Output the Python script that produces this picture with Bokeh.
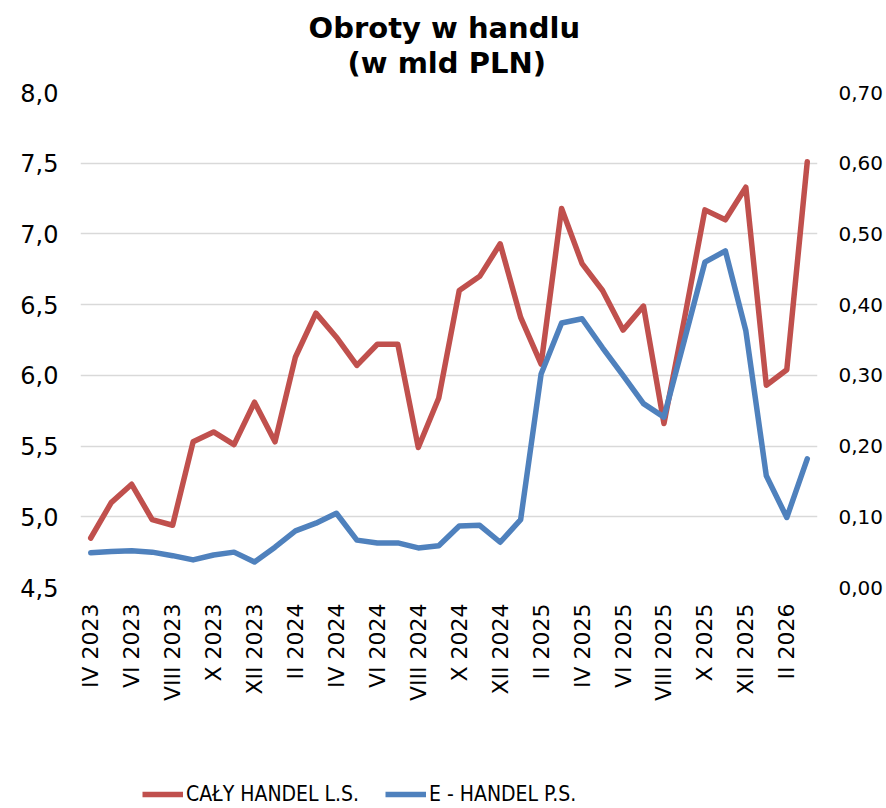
from math import pi
from bokeh.plotting import figure
from bokeh.layouts import column
from bokeh.models import (FactorRange, Range1d, LinearAxis, FixedTicker, Title,
                          CustomJSTickFormatter, Legend, LegendItem, ColumnDataSource)
from bokeh.embed import file_html
from bokeh.resources import INLINE

months = ["IV 2023", "V 2023", "VI 2023", "VII 2023", "VIII 2023", "IX 2023",
          "X 2023", "XI 2023", "XII 2023",
          "I 2024", "II 2024", "III 2024", "IV 2024", "V 2024", "VI 2024",
          "VII 2024", "VIII 2024", "IX 2024", "X 2024", "XI 2024", "XII 2024",
          "I 2025", "II 2025", "III 2025", "IV 2025", "V 2025", "VI 2025",
          "VII 2025", "VIII 2025", "IX 2025", "X 2025", "XI 2025", "XII 2025",
          "I 2026", "II 2026", "III 2026"]

shown_labels = ["IV 2023", "VI 2023", "VIII 2023", "X 2023", "XII 2023",
                "II 2024", "IV 2024", "VI 2024", "VIII 2024", "X 2024", "XII 2024",
                "II 2025", "IV 2025", "VI 2025", "VIII 2025", "X 2025", "XII 2025",
                "II 2026"]

caly_handel = [4.85, 5.10, 5.23, 4.98, 4.94, 5.53, 5.60, 5.51, 5.81,
               5.53, 6.13, 6.44, 6.27, 6.07, 6.22, 6.22, 5.49, 5.84, 6.60, 6.70, 6.93,
               6.41, 6.08, 7.18, 6.79, 6.60, 6.32, 6.49, 5.66, 6.40, 7.17, 7.10, 7.33,
               5.93, 6.04, 7.51]

e_handel = [0.049, 0.051, 0.052, 0.050, 0.045, 0.039, 0.046, 0.050, 0.036,
            0.057, 0.080, 0.091, 0.105, 0.067, 0.063, 0.063, 0.056, 0.059, 0.087, 0.088, 0.064,
            0.096, 0.302, 0.374, 0.380, 0.339, 0.300, 0.260, 0.241, 0.350, 0.460, 0.476, 0.363,
            0.158, 0.099, 0.182]

left_ticks = [4.5, 5.0, 5.5, 6.0, 6.5, 7.0, 7.5, 8.0]
right_ticks = [0.0, 0.1, 0.2, 0.3, 0.4, 0.5, 0.6, 0.7]

title_line1 = "Obroty w handlu"
title_line2 = "(w mld PLN)"
series_names = ["CAŁY HANDEL L.S.", "E - HANDEL P.S."]

RED = "#C0504D"
BLUE = "#4F81BD"
FONT = "DejaVu Sans"
LEGEND_FONT = "'DejaVu Sans Condensed', 'Roboto', sans-serif"

source = ColumnDataSource(dict(month=months, caly=caly_handel, e=e_handel))

p = figure(width=886, height=770, output_backend="svg", toolbar_location=None,
           x_range=FactorRange(factors=months, range_padding=0),
           y_range=Range1d(4.5, 8.0),
           min_border_left=80, min_border_right=69, min_border_top=92,
           min_border_bottom=183, outline_line_color=None)
p.extra_y_ranges = {"right": Range1d(0.0, 0.7)}

# title (two lines)
p.title.text = title_line1
p.title.align = "left"
p.title.offset = 228
p.title.text_font = FONT
p.title.text_font_style = "bold"
p.title.text_font_size = "29px"
p.title.text_color = "black"
p.title.standoff = -28
sub_title = Title(text=title_line2, align="left", offset=267, text_font=FONT,
                  text_font_style="bold", text_font_size="29px", text_color="black",
                  standoff=26)
p.add_layout(sub_title, "above")

# grid
p.xgrid.grid_line_color = None
p.ygrid.grid_line_color = "#D9D9D9"
p.ygrid.grid_line_width = 1.6
p.ygrid.ticker = FixedTicker(ticks=left_ticks)

# left axis
p.yaxis.ticker = FixedTicker(ticks=left_ticks)
p.yaxis.formatter = CustomJSTickFormatter(code="return tick.toFixed(1).replace('.', ',');")
p.yaxis.axis_line_color = None
p.yaxis.major_tick_line_color = None
p.yaxis.minor_tick_line_color = None
p.yaxis.major_tick_out = 0
p.yaxis.major_tick_in = 0
p.yaxis.major_label_standoff = 22
p.yaxis.major_label_text_font = FONT
p.yaxis.major_label_text_font_size = "24px"
p.yaxis.major_label_text_color = "black"

# right axis
ra = LinearAxis(y_range_name="right", ticker=FixedTicker(ticks=right_ticks),
                formatter=CustomJSTickFormatter(code="return tick.toFixed(2).replace('.', ',');"))
ra.axis_line_color = None
ra.major_tick_line_color = None
ra.minor_tick_line_color = None
ra.major_tick_out = 0
ra.major_tick_in = 0
ra.major_label_standoff = 21
ra.major_label_text_font = FONT
ra.major_label_text_font_size = "20px"
ra.major_label_text_color = "black"
p.add_layout(ra, "right")

# x axis
p.xaxis.axis_line_color = None
p.xaxis.major_tick_line_color = None
p.xaxis.major_tick_out = 0
p.xaxis.major_tick_in = 0
p.xaxis.major_label_standoff = 16
p.xaxis.major_label_orientation = pi / 2
p.xaxis.major_label_text_font = FONT
p.xaxis.major_label_text_font_size = "22px"
p.xaxis.major_label_text_color = "black"
p.xaxis.formatter = CustomJSTickFormatter(args=dict(shown=shown_labels),
                                          code="return shown.includes(tick) ? tick : '';")

p.line("month", "caly", source=source, line_color=RED, line_width=5.5,
       line_join="round", line_cap="round")
p.line("month", "e", source=source, y_range_name="right", line_color=BLUE,
       line_width=5.5, line_join="round", line_cap="round")

# legend strip below the chart
lg = figure(width=886, height=38, output_backend="svg", toolbar_location=None,
            x_range=FactorRange(factors=months, range_padding=0),
            y_range=Range1d(4.5, 8.0), x_axis_location=None, y_axis_location=None,
            min_border=0, outline_line_color=None)
lg.extra_y_ranges = {"right": Range1d(0.0, 0.7)}
lg.grid.grid_line_color = None
lr = lg.line("month", "caly", source=source, line_color=RED, line_width=5.5, visible=False)
lb = lg.line("month", "e", source=source, y_range_name="right", line_color=BLUE,
             line_width=5.5, visible=False)
legend = Legend(items=[LegendItem(label=series_names[0], renderers=[lr]),
                       LegendItem(label=series_names[1], renderers=[lb])],
                orientation="horizontal", location=(62, 2),
                padding=0, margin=0, spacing=26, label_standoff=3,
                glyph_width=41, glyph_height=24, label_height=24,
                border_line_color=None, background_fill_alpha=0,
                label_text_font=LEGEND_FONT,
                label_text_font_size="21px", label_text_color="black")
lg.add_layout(legend, "center")

layout = column(p, lg, spacing=0)
open("out.html", "w").write(file_html(layout, INLINE))
